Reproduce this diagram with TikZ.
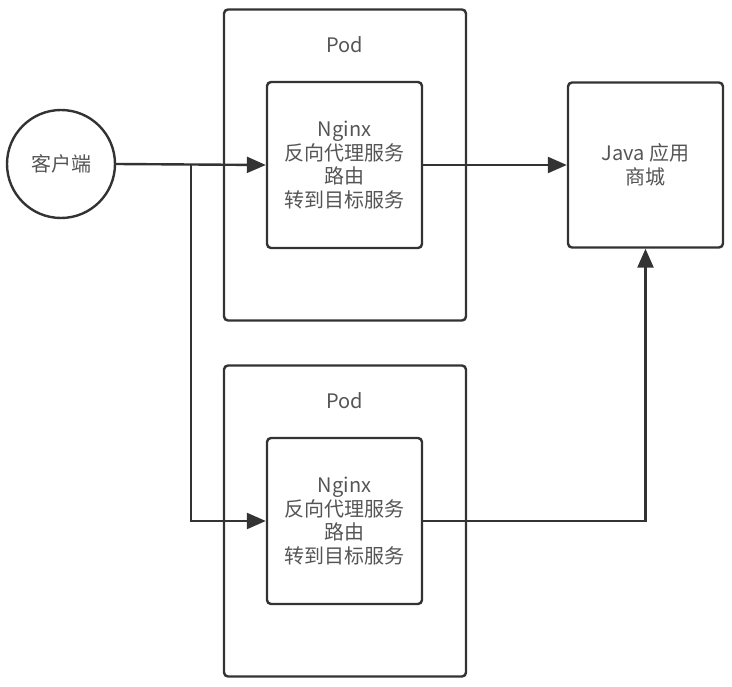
\documentclass[tikz,border=0pt]{standalone}
\usepackage{fontspec}
\setmainfont{Noto Sans CJK SC}
\usetikzlibrary{arrows.meta}
\definecolor{linegray}{HTML}{333333}
\definecolor{textgray}{HTML}{555555}
\tikzset{
  box/.style={draw=linegray, line width=2.4pt, rounded corners=4pt, inner sep=0pt},
  lbl/.style={text=textgray, font=\fontsize{20}{23.5}\selectfont, align=center},
  arr/.style={draw=linegray, line width=2.4pt, -{Triangle[length=19pt,width=16pt]}},
  wire/.style={draw=linegray, line width=2.4pt}
}
\begin{document}
\begin{tikzpicture}[x=1pt,y=-1pt]
    \useasboundingbox (0,0) rectangle (732,687);

    % Клиент
    \node[draw=linegray, line width=2.4pt, circle, minimum size=108pt, lbl] (client) at (61,164) {客户端};

    % Верхний Pod
    \node[box, minimum width=242pt, minimum height=311pt] (pod1) at (345,165) {};
    \node[lbl] (podlbl1) at (345,45) {Pod};
    \node[box, lbl, minimum width=155pt, minimum height=166pt] (ng1) at (344.5,165)
        {Nginx\\反向代理服务\\路由\\转到目标服务};

    % Нижний Pod
    \node[box, minimum width=242pt, minimum height=311pt] (pod2) at (345,521) {};
    \node[lbl] (podlbl2) at (345,401) {Pod};
    \node[box, lbl, minimum width=155pt, minimum height=166pt] (ng2) at (344.5,521)
        {Nginx\\反向代理服务\\路由\\转到目标服务};

    % Приложение
    \node[box, lbl, minimum width=155pt, minimum height=165pt] (java) at (645.5,165)
        {Java 应用\\商城};

    % Связи
    \coordinate (split) at (191,165);
    \draw[arr] (client.east) -- (ng1.west);
    \draw[arr] (split) |- (ng2.west);
    \draw[arr] (ng1.east) -- (java.west);
    \draw[arr] (ng2.east) -| (java.south);
\end{tikzpicture}
\end{document}
